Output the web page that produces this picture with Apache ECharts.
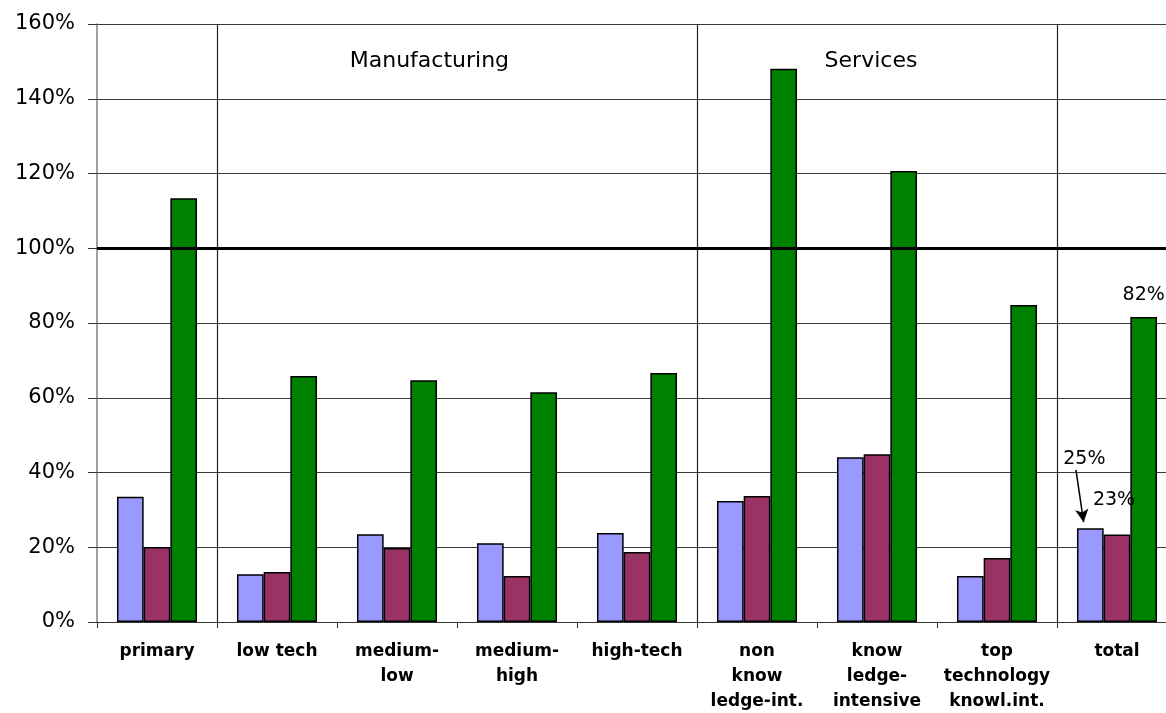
<!DOCTYPE html>
<html>
<head>
<meta charset="utf-8">
<script src="https://cdn.jsdelivr.net/npm/echarts@6/dist/echarts.min.js"></script>
<style>
  html, body { margin: 0; padding: 0; background: #fff; overflow: hidden; }
  #chart { width: 1177px; height: 713px; }
</style>
</head>
<body>
<div id="chart"></div>
<script>
// Sectors on the category axis
const categories = [
  'primary', 'low tech', 'medium-\nlow', 'medium-\nhigh', 'high-tech',
  'non\nknow\nledge-int.', 'know\nledge-\nintensive', 'top\ntechnology\nknowl.int.', 'total'
];

// Three series, values in percent
const seriesA = [33.5, 12.8, 23.5, 21.1, 23.8, 32.4, 44.1, 12.3, 25.1];
const seriesB = [20.1, 13.4, 19.8, 12.3, 18.7, 33.7, 44.9, 17.1, 23.4];
const seriesC = [113.4, 65.8, 64.7, 61.5, 66.6, 148.0, 120.7, 84.8, 81.6];

// Y-axis ticks
const yTicks = [0, 20, 40, 60, 80, 100, 120, 140, 160];

// Group dividers (category boundaries) and group headings
const groupDividers = [1, 5, 8];
const groupHeadings = [
  { name: 'Manufacturing', x: 2.77, y: 150 },
  { name: 'Services', x: 6.45, y: 150 }
];
const referenceLevel = 100;

const FONT = '"DejaVu Sans", Lato, sans-serif';
const colors = ['#9999FF', '#993366', '#008000'];
const lastIdx = categories.length - 1;

function pct(v) { return Math.round(v) + '%'; }

function withLastLabel(values, labelOpts) {
  return values.map((v, i) => i === lastIdx
    ? { value: v, label: Object.assign({ show: true, formatter: p => pct(p.value), color: '#000', fontSize: 19, fontFamily: FONT }, labelOpts) }
    : v);
}

function barSeries(name, values, color, labelOpts) {
  return {
    name, type: 'bar', xAxisIndex: 0, yAxisIndex: 0,
    data: labelOpts ? withLastLabel(values, labelOpts) : values,
    barGap: '0%', barCategoryGap: '33.3%',
    itemStyle: { color, borderColor: '#000', borderWidth: 1.5 },
    animation: false
  };
}

const chart = echarts.init(document.getElementById('chart'), null, { renderer: 'canvas' });

chart.setOption({
  animation: false,
  grid: { left: 97, right: 0, top: 24, bottom: 91, containLabel: false, outerBoundsMode: 'none' },
  xAxis: [
    {
      type: 'category', data: categories,
      axisLine: { lineStyle: { color: '#333', width: 1 } },
      axisTick: { show: true, length: 6, lineStyle: { color: '#333' } },
      axisLabel: {
        interval: 0, margin: 17, color: '#000', fontFamily: FONT,
        fontWeight: 'bold', fontSize: 17, lineHeight: 25
      },
      splitLine: { show: false }
    },
    {
      type: 'value', min: 0, max: categories.length, show: false
    }
  ],
  yAxis: {
    type: 'value', min: 0, max: 160, interval: 20,
    axisLine: { show: true, lineStyle: { color: '#808080', width: 1.5 } },
    axisTick: { show: true, inside: false, length: 9, lineStyle: { color: '#333' } },
    axisLabel: {
      margin: 22, color: '#000', fontFamily: FONT, fontSize: 21,
      formatter: v => yTicks.includes(v) ? v + '%' : ''
    },
    splitLine: { show: true, lineStyle: { color: '#3a3a3a', width: 1 } }
  },
  series: [
    barSeries('A', seriesA, colors[0], { position: 'top', offset: [-6, -55] }),
    barSeries('B', seriesB, colors[1], { position: 'top', offset: [-3, -20] }),
    barSeries('C', seriesC, colors[2], { position: 'top', distance: 12 }),
    {
      // dividers, headings, reference line and pointer on a hidden value x-axis
      type: 'line', xAxisIndex: 1, yAxisIndex: 0, data: [],
      silent: true,
      markLine: {
        silent: true, symbol: 'none', animation: false,
        label: { show: false },
        data: [
          ...groupDividers.map(x => ({ xAxis: x, lineStyle: { color: '#222', width: 1.2, type: 'solid' } })),
          { yAxis: referenceLevel, lineStyle: { color: '#000', width: 3, type: 'solid' } },
          [
            { coord: [8.158, 40.7], symbol: 'none', lineStyle: { color: '#000', width: 1.5, type: 'solid' } },
            { coord: [8.222, 26.7], symbol: 'arrow', symbolSize: [10, 13] }
          ]
        ]
      },
      markPoint: {
        silent: true, symbol: 'circle', symbolSize: 0, animation: false,
        data: groupHeadings.map(h => ({
          coord: [h.x, h.y], name: h.name,
          label: {
            show: true, formatter: h.name, position: 'inside',
            color: '#000', fontFamily: FONT, fontSize: 22
          }
        }))
      }
    }
  ]
});
</script>
</body>
</html>
